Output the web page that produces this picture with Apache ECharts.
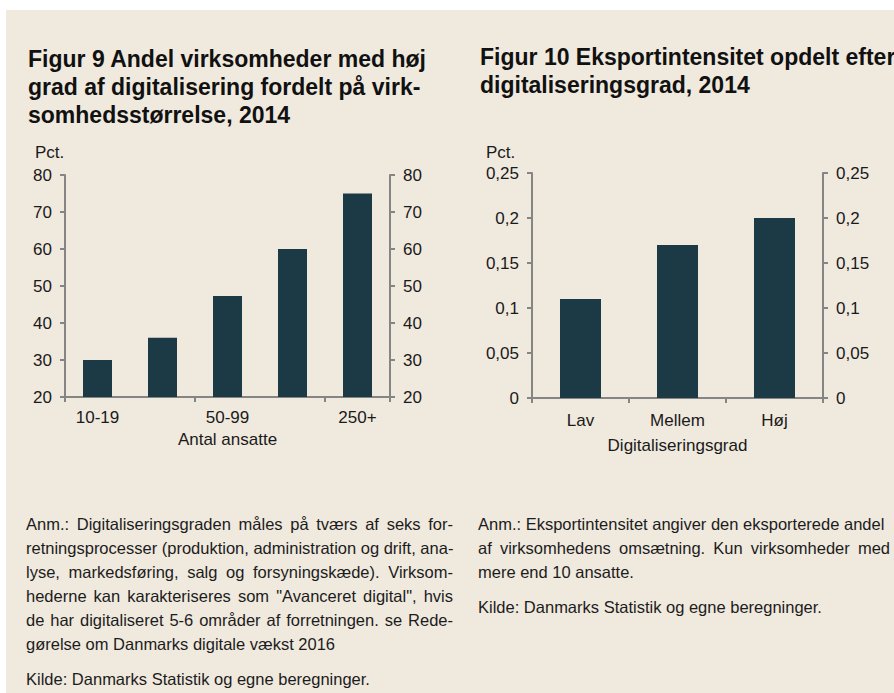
<!DOCTYPE html>
<html>
<head>
<meta charset="utf-8">
<script src="https://cdn.jsdelivr.net/npm/echarts@6/dist/echarts.min.js"></script>
<style>
  body { margin: 0; background: #fff; width: 894px; height: 693px; overflow: hidden; position: relative;
         font-family: "Liberation Sans", Arial, sans-serif; color: #141414; }
  #bg { position: absolute; left: 6px; top: 10px; right: 0; bottom: 0; background: #f0e9de; }
  .titel { position: absolute; font-size: 23px; font-weight: bold; line-height: 28px; white-space: nowrap; color: #111; }
  .note { position: absolute; width: 427px; font-size: 16.5px; line-height: 24px; color: #1c1c1c; }
  .note .j { text-align: justify; text-align-last: justify; white-space: nowrap; }
  .note .l { white-space: nowrap; }
  .note .kilde { margin-top: 11px; white-space: nowrap; }
  .chart { position: absolute; }
</style>
</head>
<body>
<div id="bg"></div>

<div class="titel" style="left:28px; top:45px;">Figur 9 Andel virksomheder med høj<br>grad af digitalisering fordelt på virk-<br>somhedsstørrelse, 2014</div>
<div class="titel" style="left:480px; top:43px;">Figur 10 Eksportintensitet opdelt efter<br>digitaliseringsgrad, 2014</div>

<div id="fig9" class="chart" style="left:20px; top:140px; width:420px; height:320px;"></div>
<div id="fig10" class="chart" style="left:460px; top:140px; width:434px; height:320px;"></div>

<div class="note" style="left:26px; top:512px;">
  <div class="j">Anm.: Digitaliseringsgraden måles på tværs af seks for-</div>
  <div class="j">retningsprocesser (produktion, administration og drift, ana-</div>
  <div class="j">lyse, markedsføring, salg og forsyningskæde). Virksom-</div>
  <div class="j">hederne kan karakteriseres som "Avanceret digital", hvis</div>
  <div class="j">de har digitaliseret 5-6 områder af forretningen. se Rede-</div>
  <div class="l">gørelse om Danmarks digitale vækst 2016</div>
  <div class="kilde">Kilde: Danmarks Statistik og egne beregninger.</div>
</div>
<div class="note" style="left:478px; top:512px; width:412px;">
  <div class="l">Anm.: Eksportintensitet angiver den eksporterede andel</div>
  <div class="j">af virksomhedens omsætning. Kun virksomheder med</div>
  <div class="l">mere end 10 ansatte.</div>
  <div class="kilde">Kilde: Danmarks Statistik og egne beregninger.</div>
</div>

<script>
// Figur 9: andel virksomheder med høj digitalisering (pct.)
var storrelse = ['10-19', '20-49', '50-99', '100-249', '250+'];
var andelHoj = [30, 36, 47.3, 60, 75];

// Figur 10: eksportintensitet
var grad = ['Lav', 'Mellem', 'Høj'];
var eksportintensitet = [0.11, 0.17, 0.2];

var font = 'Liberation Sans, Arial, sans-serif';
var axisGray = '#858585';
var barColor = '#1c3a45';

function komma(v) {
    return String(+v.toFixed(2)).replace('.', ',');
}

function yAkse(pos, min, max, interval, margin) {
    return {
        type: 'value',
        position: pos,
        min: min,
        max: max,
        interval: interval,
        splitLine: { show: false },
        axisLine: { show: true, lineStyle: { color: axisGray, width: 2 } },
        axisTick: { show: true, length: 5, lineStyle: { color: axisGray, width: 2 } },
        axisLabel: { margin: margin, color: '#1a1a1a', fontSize: 17, fontFamily: font, formatter: komma }
    };
}

function echart(domId, opt) {
    var dom = document.getElementById(domId);
    var myChart = echarts.init(dom, null, { renderer: 'svg' });
    var option = {
        animation: false,
        title: {
            text: 'Pct.',
            left: opt.pctLeft,
            top: 4,
            padding: 0,
            textStyle: { fontSize: 17, fontWeight: 'normal', color: '#1a1a1a', fontFamily: font }
        },
        grid: opt.grid,
        xAxis: {
            type: 'category',
            data: opt.kategorier,
            name: opt.xNavn,
            nameLocation: 'middle',
            nameGap: opt.nameGap,
            nameTextStyle: { fontSize: 17, color: '#1a1a1a', fontFamily: font },
            axisLine: { lineStyle: { color: axisGray, width: 2 } },
            axisTick: { show: true, length: 5, alignWithLabel: false, lineStyle: { color: axisGray, width: 2 } },
            axisLabel: { interval: opt.labelInterval, margin: opt.labelMargin, color: '#1a1a1a', fontSize: 17, fontFamily: font }
        },
        yAxis: [
            yAkse('left', opt.min, opt.max, opt.interval, 13),
            yAkse('right', opt.min, opt.max, opt.interval, 13)
        ],
        series: [
            {
                type: 'bar',
                data: opt.data,
                barWidth: opt.barWidth,
                itemStyle: { color: barColor }
            }
        ]
    };
    myChart.setOption(option);
}

echart('fig9', {
    kategorier: storrelse,
    data: andelHoj,
    min: 20, max: 80, interval: 10,
    xNavn: 'Antal ansatte',
    nameGap: 33,
    labelInterval: 1,
    labelMargin: 12,
    pctLeft: 15,
    barWidth: 29,
    grid: { left: 45, top: 35, width: 325, height: 222 }
});

echart('fig10', {
    kategorier: grad,
    data: eksportintensitet,
    min: 0, max: 0.25, interval: 0.05,
    xNavn: 'Digitaliseringsgrad',
    nameGap: 39,
    labelInterval: 0,
    labelMargin: 14,
    pctLeft: 26,
    barWidth: 41,
    grid: { left: 72, top: 33, width: 291, height: 225 }
});
</script>
</body>
</html>
